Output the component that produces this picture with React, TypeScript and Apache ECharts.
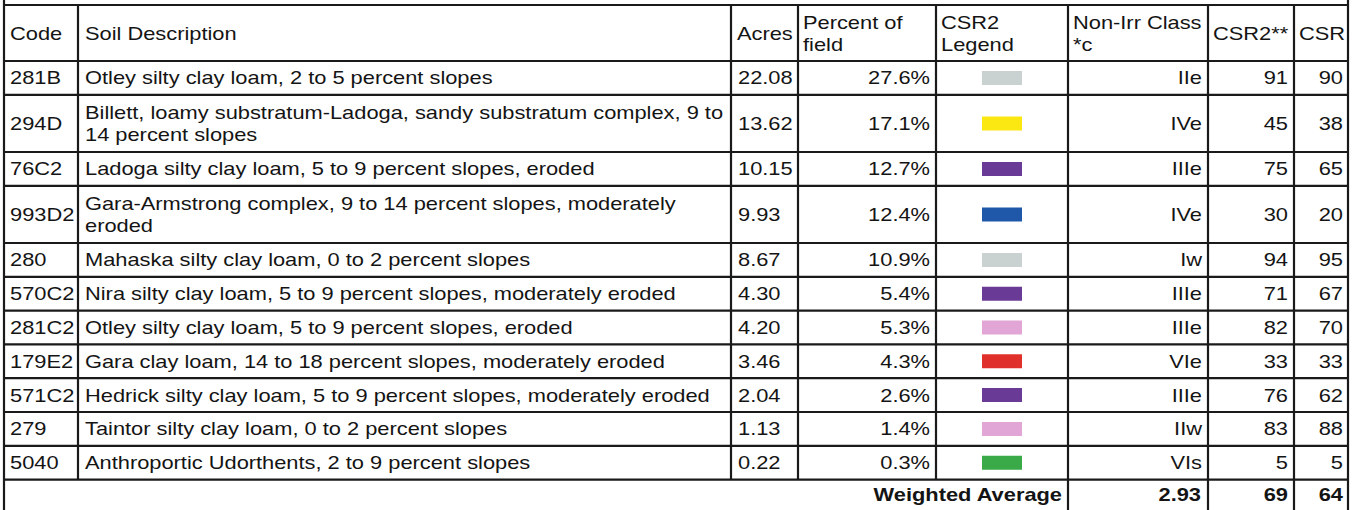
import React, { useEffect, useRef } from 'react';
import * as echarts from 'echarts';

// ---- data ----
const headerTexts = ['Code', 'Soil Description', 'Acres', 'Percent of\nfield', 'CSR2\nLegend', 'Non-Irr Class\n*c', 'CSR2**', 'CSR'];
const codes = ['281B', '294D', '76C2', '993D2', '280', '570C2', '281C2', '179E2', '571C2', '279', '5040'];
const descriptions = [
  'Otley silty clay loam, 2 to 5 percent slopes',
  'Billett, loamy substratum-Ladoga, sandy substratum complex, 9 to\n14 percent slopes',
  'Ladoga silty clay loam, 5 to 9 percent slopes, eroded',
  'Gara-Armstrong complex, 9 to 14 percent slopes, moderately\neroded',
  'Mahaska silty clay loam, 0 to 2 percent slopes',
  'Nira silty clay loam, 5 to 9 percent slopes, moderately eroded',
  'Otley silty clay loam, 5 to 9 percent slopes, eroded',
  'Gara clay loam, 14 to 18 percent slopes, moderately eroded',
  'Hedrick silty clay loam, 5 to 9 percent slopes, moderately eroded',
  'Taintor silty clay loam, 0 to 2 percent slopes',
  'Anthroportic Udorthents, 2 to 9 percent slopes',
];
const acres = ['22.08', '13.62', '10.15', '9.93', '8.67', '4.30', '4.20', '3.46', '2.04', '1.13', '0.22'];
const percents = ['27.6%', '17.1%', '12.7%', '12.4%', '10.9%', '5.4%', '5.3%', '4.3%', '2.6%', '1.4%', '0.3%'];
const legendColors = ['#c9d1d1', '#fbe812', '#6a3b96', '#1f58a8', '#c9d1d1', '#6a3b96', '#e2a6d6', '#e0302c', '#6a3b96', '#e2a6d6', '#3aaa48'];
const nonIrrClasses = ['IIe', 'IVe', 'IIIe', 'IVe', 'Iw', 'IIIe', 'IIIe', 'VIe', 'IIIe', 'IIw', 'VIs'];
const csr2Values = ['91', '45', '75', '30', '94', '71', '82', '33', '76', '83', '5'];
const csrValues = ['90', '38', '65', '20', '95', '67', '70', '33', '62', '88', '5'];
const weightedLabel = 'Weighted Average';
const weightedValues = ['2.93', '69', '64'];

// ---- layout ----
const COLS = [4, 78, 731, 798, 936, 1068, 1208, 1294, 1348];
const TOP = 5;
const HEAD_BOTTOM = 61;
const ROW1 = 33.8;
const ROW2 = 57.2;
const FS = 18.8;
const SX = 1.162;
const LH = 22;
const INK = '#141414';
const LINE = '#1a1a1a';
const FONT = '"Liberation Sans", Arial, Helvetica, sans-serif';

function txt(text: string, x: number, y: number, align: string = 'left', bold = false) {
  return {
    type: 'text',
    x,
    y,
    scaleX: SX,
    silent: true,
    style: {
      text,
      fill: INK,
      font: `${bold ? 'bold ' : ''}${FS}px ${FONT}`,
      lineHeight: LH,
      textAlign: align,
      textVerticalAlign: 'middle',
      align,
      verticalAlign: 'middle',
    },
  };
}

function ln(x1: number, y1: number, x2: number, y2: number) {
  return {
    type: 'line',
    silent: true,
    shape: { x1, y1, x2, y2 },
    style: { stroke: LINE, lineWidth: 2.2 },
  };
}

export default function App() {
  const ref = useRef<HTMLDivElement>(null);
  useEffect(() => {
    document.body.style.margin = '0';
    const chart = echarts.init(ref.current!, null, { renderer: 'svg' });
    const els: any[] = [];

    // row boundaries derived from number of lines in the description
    const bounds: number[] = [HEAD_BOTTOM];
    descriptions.forEach((d) => {
      const n = d.split('\n').length;
      bounds.push(bounds[bounds.length - 1] + (n > 1 ? ROW2 : ROW1));
    });
    const tableBottom = bounds[bounds.length - 1];

    // horizontal lines
    els.push(ln(COLS[0], TOP, COLS[8], TOP));
    bounds.forEach((y) => els.push(ln(COLS[0], y, COLS[8], y)));

    // vertical lines
    els.push(ln(COLS[0], 0, COLS[0], 510));
    els.push(ln(COLS[8], 0, COLS[8], 510));
    [1, 2, 3, 4].forEach((i) => els.push(ln(COLS[i], TOP, COLS[i], tableBottom)));
    [5, 6, 7].forEach((i) => els.push(ln(COLS[i], TOP, COLS[i], 510)));

    // header
    const hMid = (TOP + HEAD_BOTTOM) / 2 + 0.5;
    const hx = [10, 85, 737, 803, 941, 1073, 1213, 1299];
    headerTexts.forEach((h, i) => els.push(txt(h, hx[i], hMid, 'left')));

    // body
    codes.forEach((code, i) => {
      const yc = (bounds[i] + bounds[i + 1]) / 2;
      els.push(txt(code, 10, yc));
      els.push(txt(descriptions[i], 85, yc));
      els.push(txt(acres[i], 738, yc));
      els.push(txt(percents[i], 930, yc, 'right'));
      els.push({
        type: 'rect',
        silent: true,
        shape: { x: 982, y: yc - 7, width: 40, height: 14 },
        style: { fill: legendColors[i] },
      });
      els.push(txt(nonIrrClasses[i], 1202, yc, 'right'));
      els.push(txt(csr2Values[i], 1288, yc, 'right'));
      els.push(txt(csrValues[i], 1343, yc, 'right'));
    });

    // weighted average row
    const wy = tableBottom + 15;
    els.push(txt(weightedLabel, 1062, wy, 'right', true));
    els.push(txt(weightedValues[0], 1201, wy, 'right', true));
    els.push(txt(weightedValues[1], 1288, wy, 'right', true));
    els.push(txt(weightedValues[2], 1343, wy, 'right', true));

    chart.setOption({
      animation: false,
      backgroundColor: '#ffffff',
      graphic: { elements: els },
    });
    return () => chart.dispose();
  }, []);
  return <div ref={ref} style={{ width: 1353, height: 510 }} />;
}
